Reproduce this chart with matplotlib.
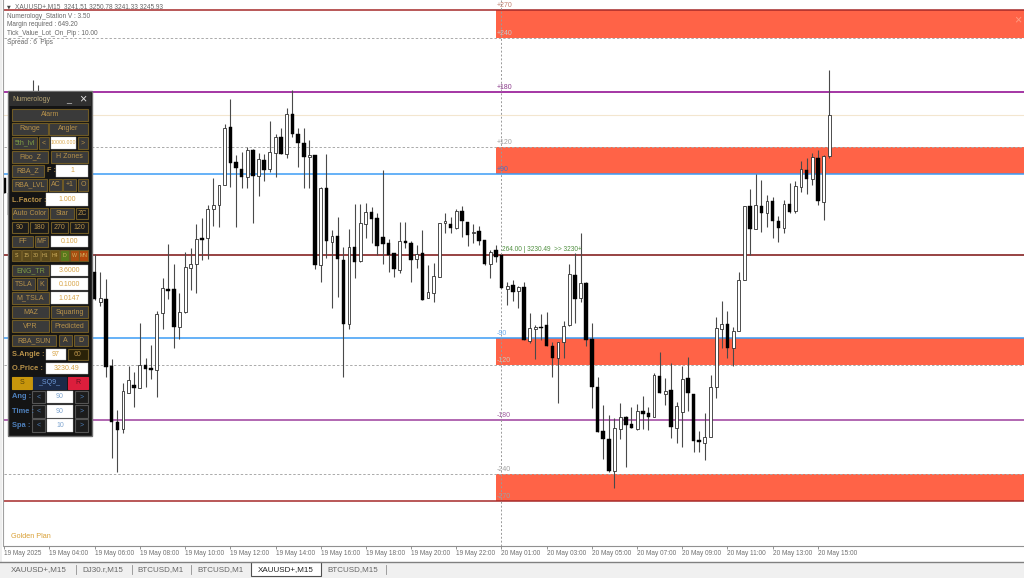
import numpy as np
import matplotlib
matplotlib.use("Agg")
import matplotlib.pyplot as plt
from matplotlib.patches import Rectangle

plt.rcParams['font.family'] = ['Liberation Sans', 'DejaVu Sans']

# Candles in points away from the O.Price level, one value per 15 min bar
O_PRICE = 3230.49
POINT = 0.1105

high_pts = [77, 70, 48, 60, 110, 175, 170, 130, 100, 75, 80, 55, 45, 50, 30, 28,
            1, -17, -24, -104, -155, -128, -111, -117, -68, -103, -90, -56, -23, 11, -9, -38,
            3, 7, 31, 37, 50, 77, 70, 131, 156, 100, 103, 108, 106, 102, 101, 134,
            121, 127, 147, 165, 127, 127, 115, 100, 68, 101, 25, 38, 8, 26, 51, 51,
            52, 48, 42, 85, 16, 2, 33, 33, 14, 10, 25, -10, -8, 32, 42, 38,
            46, 49, 33, 31, 29, 15, 5, 10, 0, -27, -25, -31, -27, -58, -70, -59,
            -57, -87, -87, -66, -9, 2, 22, -27, -68, -122, -150, -160, -163, -148, -161, -152,
            -149, -141, -152, -118, -97, -123, -108, -147, -111, -102, -139, -176, -158, -120, -62, -46,
            -56, -72, -17, 49, 66, 81, 75, 60, 58, 39, 55, 72, 74, 94, 97, 102,
            105, 100, 185]
open_pts = [77, 62, 40, 22, 50, 100, 130, 115, 90, 60, 70, 45, 30, 38, 20, 25,
            -17, -47, -44, -111, -167, -174, -138, -130, -133, -110, -113, -115, -58, -34, -34, -72,
            -57, -13, -9, 17, 17, 46, 50, 70, 128, 93, 86, 78, 105, 79, 95, 86,
            102, 118, 101, 141, 121, 112, 98, 100, -10, 67, 13, 19, -5, -69, 8, -6,
            31, 43, 37, 18, 12, 2, -15, 14, 12, -4, 2, -43, -38, -22, 32, 31,
            27, 44, 33, 22, 24, 15, -9, 5, 0, -34, -30, -36, -32, -86, -74, -72,
            -70, -91, -103, -87, -70, -20, -43, -28, -84, -132, -176, -184, -216, -174, -162, -169,
            -174, -156, -158, -162, -121, -139, -135, -173, -157, -123, -139, -185, -188, -182, -132, -74,
            -69, -93, -76, -25, 49, 26, 49, 42, 54, 34, 27, 51, 44, 68, 85, 76,
            97, 53, 99]
close_pts = [62, 40, 22, 50, 100, 130, 115, 90, 60, 70, 45, 30, 38, 20, 25, 0,
             -44, -43, -112, -167, -175, -136, -125, -133, -110, -114, -115, -59, -33, -36, -72, -57,
             -12, -9, 16, 15, 46, 50, 70, 127, 92, 87, 78, 105, 79, 96, 85, 103,
             118, 101, 141, 121, 112, 98, 100, -10, 67, 14, 19, -4, -69, 8, -7, 32,
             43, 36, 9, 11, 0, -14, 14, 12, -5, 1, -45, -37, -21, 32, 34, 27,
             44, 34, 20, 23, 14, -9, 3, -2, -33, -31, -37, -32, -85, -73, -72, -73,
             -91, -103, -87, -71, -19, -44, -28, -85, -132, -177, -184, -216, -173, -162, -170, -173,
             -156, -159, -162, -120, -138, -136, -172, -151, -124, -138, -186, -187, -182, -132, -73, -69,
             -93, -76, -25, 49, 26, 50, 42, 54, 34, 27, 51, 43, 69, 86, 76, 98,
             54, 99, 140]
low_pts = [62, 30, 12, 15, 45, 90, 100, 80, 50, 40, 35, 20, 15, 10, 5, -5,
           -45, -51, -122, -203, -217, -178, -138, -152, -133, -132, -124, -142, -74, -44, -93, -84,
           -58, -35, -38, -5, -4, 29, 28, 70, 68, 28, 67, 67, 32, 59, 74, 83,
           78, 101, 97, 118, 88, 67, 67, -14, -27, -3, -53, -42, -122, -74, -23, -7,
           17, 12, 0, -9, -17, -22, -18, 7, -27, -13, -45, -43, -47, -22, 22, 22,
           26, 18, 9, 12, 10, -10, -23, -7, -33, -50, -46, -53, -85, -88, -104, -85,
           -91, -122, -148, -103, -71, -68, -47, -91, -153, -177, -204, -217, -233, -184, -212, -173,
           -175, -174, -175, -162, -138, -150, -183, -188, -192, -156, -197, -197, -205, -182, -143, -93,
           -103, -111, -76, -25, 0, 26, 23, 28, 17, 13, 22, 42, 42, 63, 61, 70,
           50, 35, 97]

tick_labels = ['19 May 2025', '19 May 04:00', '19 May 06:00', '19 May 08:00', '19 May 10:00',
               '19 May 12:00', '19 May 14:00', '19 May 16:00', '19 May 18:00', '19 May 20:00',
               '19 May 22:00', '20 May 01:00', '20 May 03:00', '20 May 05:00', '20 May 07:00',
               '20 May 09:00', '20 May 11:00', '20 May 13:00', '20 May 15:00']

# angle levels, points from O.Price
level_names = ['+270', '+240', '+180', '+120', '+90', '-90', '-120', '-180', '-240', '-270']
level_pts = [245, 217, 162.5, 108, 81, -83, -110, -165, -219, -246]
level_colors = ['#a52a2a', '#aaaaaa', '#8b008b', '#aaaaaa', '#3c9cf5',
                '#3c9cf5', '#aaaaaa', '#9c3f9c', '#aaaaaa', '#a52a2a']
label_colors = ['#c08070', '#c8c8c8', '#8b3a8b', '#a0a0a0', '#4a70c0',
                '#66aaee', '#d0c8b8', '#a060a0', '#a0a0a0', '#a0a0a0']
zones_pts = [(217, 245), (81, 108), (-110, -83), (-246, -219)]

def to_price(pts):
    return O_PRICE + np.asarray(pts, dtype=float) * POINT

high = to_price(high_pts)
low = to_price(low_pts)
opens = to_price(open_pts)
close = to_price(close_pts)
idx = np.arange(len(high))

W, H = 1024, 578
fig = plt.figure(figsize=(W / 100, H / 100), dpi=100, facecolor='white')

ax = fig.add_axes([4 / W, (H - 546) / H, 1020 / W, 546 / H])
xmin, xmax = (4 - 4.3) / 5.65, (1024 - 4.3) / 5.65
ax.set_xlim(xmin, xmax)
ax.set_ylim(to_price((255 - 546)), to_price(255))
for s in ['top', 'left', 'right']:
    ax.spines[s].set_visible(False)
ax.spines['bottom'].set_color('#909090')
ax.spines['bottom'].set_linewidth(0.8)
ax.set_yticks([])
tick_pos = np.arange(0, len(tick_labels) * 8, 8)
ax.set_xticks(tick_pos)
ax.set_xticklabels(tick_labels, ha='left', fontsize=4.7, color='#707070')
ax.tick_params(axis='x', length=2.2, width=0.6, color='#808080', pad=0.6)

# red zones start at the same bar as the angle labels
zone_start = 87
for lo, hi in zones_pts:
    ax.fill_between([zone_start, xmax], to_price(lo), to_price(hi), color='#ff6347', lw=0, zorder=1)

for name, pts, col, lab_col in zip(level_names, level_pts, level_colors, label_colors):
    if col == '#aaaaaa':
        ax.axhline(to_price(pts), color=col, lw=0.7, ls=(0, (2.5, 2)), zorder=2)
    else:
        ax.axhline(to_price(pts), color=col, lw=1.1, zorder=2)
    ax.annotate(name, (zone_start + 0.1, to_price(pts)), xytext=(0, 1), textcoords='offset points',
                fontsize=5, color=lab_col, va='bottom', ha='left', zorder=6)

ax.axhline(O_PRICE, color='#7a1010', lw=1.1, zorder=2)
ax.axhline(close[-1], color='#f3e6cf', lw=0.8, zorder=2)
ax.axvline(88, color='#999999', lw=0.7, ls=(0, (2, 2)), zorder=3)
ax.annotate('264.00 | 3230.49  >> 3230+', (88.1, O_PRICE), xytext=(0, 1.5), textcoords='offset points',
            fontsize=4.7, color='#4f8f3f', va='bottom', ha='left', zorder=6)

ax.vlines(idx, low, high, color='#4a4a4a', lw=0.8, zorder=4)
up = close >= opens
bottoms = np.minimum(opens, close)
heights = np.abs(close - opens)
ax.bar(idx[up], heights[up], bottom=bottoms[up], width=0.5, facecolor='white', edgecolor='#303030', lw=0.6, zorder=5)
ax.bar(idx[~up], heights[~up], bottom=bottoms[~up], width=0.62, facecolor='black', edgecolor='black', lw=0.3, zorder=5)

# overlay in pixel coordinates for the terminal chrome and the indicator panel
ui = fig.add_axes([0, 0, 1, 1], facecolor='none')
ui.set_xlim(0, W)
ui.set_ylim(H, 0)
ui.axis('off')

def rect(x0, y0, x1, y1, face, edge='none', lw=0.0, z=10):
    ui.add_patch(Rectangle((x0, y0), x1 - x0, y1 - y0, facecolor=face, edgecolor=edge, lw=lw, zorder=z))

def txt(x, y, s, color='#666666', size=4.7, ha='left', z=12, **kw):
    ui.text(x, y, s, color=color, fontsize=size, ha=ha, va='center', zorder=z, **kw)

# window frame and tabs
rect(0, 0, 1.5, 562, '#eeeeee')
ui.plot([3, 3], [0, 546], color='#a0a0a0', lw=0.8, zorder=9)
ui.plot([1, 1], [0, 562], color='#c0c0c0', lw=0.6, zorder=9)
rect(0, 562, W, H, '#f0f0f0')
ui.plot([0, W], [562, 562], color='#808080', lw=1.0, zorder=11)

tabs = [('XAUUSD+,M15', 39), ('DJ30.r,M15', 103), ('BTCUSD,M1', 161), ('BTCUSD,M1', 220), ('BTCUSD,M15', 353)]
for name, x in tabs:
    txt(x, 570, name, color='#666666', size=5.8, ha='center')
for x in [76, 132, 191, 386]:
    ui.plot([x, x], [565, 574], color='#909090', lw=0.6, zorder=12)
rect(251, 562, 321, 576, 'white', '#505050', 0.8)
txt(286, 569.5, 'XAUUSD+,M15', color='#222222', size=5.8, ha='center')

# chart corner texts
txt(7, 7, '▼', color='#444444', size=3.5, family=['DejaVu Sans'])
txt(15, 7, 'XAUUSD+,M15  3241.51 3250.78 3241.33 3245.93')
txt(7, 16, 'Numerology_Station V : 3.50')
txt(7, 25, 'Margin required : 649.20')
txt(7, 33.5, 'Tick_Value_Lot_On_Pip : 10.00')
txt(7, 42.5, 'Spread : 6  Pips')
txt(11, 537, 'Golden Plan', color='#d9a036', size=5.2)
txt(1018, 20, '×', color='#ff9a80', size=9, ha='center')

# panel
GOLD = '#b8924a'
EDGE = '#6f5a25'
BTN = '#3a3a3a'
DARK = '#1c1c1c'
BLUE = '#4f81bd'

rect(8, 91, 92, 436, '#141414', '#707070', 1.0)
rect(9, 92, 91, 106, '#303030')
txt(12, 99.5, 'Numerology', color='#b8a777', size=5)
txt(69, 100, '_', color='#dddddd', size=6.5, ha='center')
txt(83, 99.5, '×', color='#e0e0e0', size=9, ha='center')

def btn(x0, y0, x1, y1, s, color=GOLD, face=BTN, edge=EDGE, size=5):
    rect(x0, y0, x1, y1, face, edge, 0.8, z=11)
    txt((x0 + x1) / 2, (y0 + y1) / 2, s, color=color, size=size, ha='center')

def val(x0, y0, x1, y1, s, color='#d8a548', size=5):
    rect(x0, y0, x1, y1, 'white', '#c0c0c0', 0.3, z=11)
    txt((x0 + x1) / 2, (y0 + y1) / 2, s, color=color, size=size, ha='center')

GREEN = '#7f9f45'
btn(12, 109, 88, 121, 'Alarm')
btn(12, 123, 48, 135, 'Range')
btn(49, 123, 88, 135, 'Angler')
btn(12, 137, 37, 149, '5th_lvl', color=GREEN)
btn(39, 137, 49, 149, '<')
val(51, 137, 76, 149, '10000.000', size=3.8)
btn(78, 137, 88, 149, '>')
btn(12, 151, 48, 163, 'Fibo_Z')
btn(51, 151, 88, 163, 'H Zones')
btn(12, 165, 44, 177, 'RBA_Z')
txt(47, 171, 'F :', color=GOLD, size=5.2, weight='bold')
val(56, 165, 88, 177, '1')
btn(12, 179, 47, 191, 'RBA_LVL')
btn(49, 179, 62, 191, 'AC')
btn(63, 179, 76, 191, '+1')
btn(78, 179, 88, 191, 'O')
txt(12, 200, 'L.Factor :', color=GOLD, size=5.4, weight='bold')
val(46, 193, 88, 206, '1.000')
btn(12, 208, 48, 219, 'Auto Color')
btn(50, 208, 74, 219, 'Star')
btn(76, 208, 88, 219, 'ZC', face=DARK)
for (x0, x1), s in zip([(12, 28), (30, 48), (51, 68), (70, 88)], ['90', '180', '270', '120']):
    btn(x0, 222, x1, 233, s, face=DARK)
btn(12, 236, 33, 247, 'FF')
btn(35, 236, 48, 247, 'MF')
val(51, 236, 88, 247, '0.100')

tf_names = ['S', '15', '30', 'H1', 'H4', 'D', 'W', 'MN']
tf_colors = ['#5b4a1c', '#5b4a1c', '#5b4a1c', '#5b4a1c', '#6e5418', '#587a1c', '#a84e10', '#b2480c']
for i, (s, col) in enumerate(zip(tf_names, tf_colors)):
    btn(12 + i * 9.6, 250, 21 + i * 9.6, 261, s, face=col, color='#d0b060', size=3.8)

btn(12, 265, 49, 276, 'ENG_TR', color=GREEN)
val(51, 265, 88, 276, '3.6000')
btn(12, 278, 35, 290, 'TSLA')
btn(37, 278, 47, 290, 'K')
val(51, 278, 88, 290, '0.1000')
btn(12, 292, 49, 304, 'M_TSLA')
val(51, 292, 88, 304, '1.0147')
btn(12, 306, 49, 318, 'MAZ')
btn(51, 306, 88, 318, 'Squaring')
btn(12, 320, 49, 332, 'VPR')
btn(51, 320, 88, 332, 'Predicted')
btn(12, 335, 56, 346, 'RBA_SUN')
btn(59, 335, 72, 346, 'A')
btn(74, 335, 88, 346, 'D')
txt(12, 354.5, 'S.Angle :', color=GOLD, size=5.4, weight='bold')
val(46, 349, 66, 360, '97')
btn(68, 349, 88, 360, '60', face='#2a2208')
txt(12, 368.5, 'O.Price :', color=GOLD, size=5.4, weight='bold')
val(46, 363, 88, 374, '3230.49')
btn(12, 377, 32, 389, 'S', face='#c8960c', color='#5a4508', edge='#c8960c')
btn(33, 377, 66, 389, '_SQ9_', face='#1b2a48', color='#6f9ad8', edge='#1b2a48')
btn(68, 377, 88, 389, 'R', face='#dc1e3c', color='#6a1020', edge='#dc1e3c')
for y0, y1, name, v in [(391, 403, 'Ang :', '90'), (405, 418, 'Time :', '90'), (419, 432, 'Spa :', '10')]:
    txt(12, (y0 + y1) / 2, name, color=BLUE, size=5.4, weight='bold')
    btn(32, y0, 45, y1, '<', color=BLUE, face=DARK, edge='#555555')
    val(47, y0, 73, y1, v, color='#7fa5d0')
    btn(75, y0, 88, y1, '>', color=BLUE, face=DARK, edge='#555555')

fig.savefig('out.png', dpi=100, facecolor='white')
